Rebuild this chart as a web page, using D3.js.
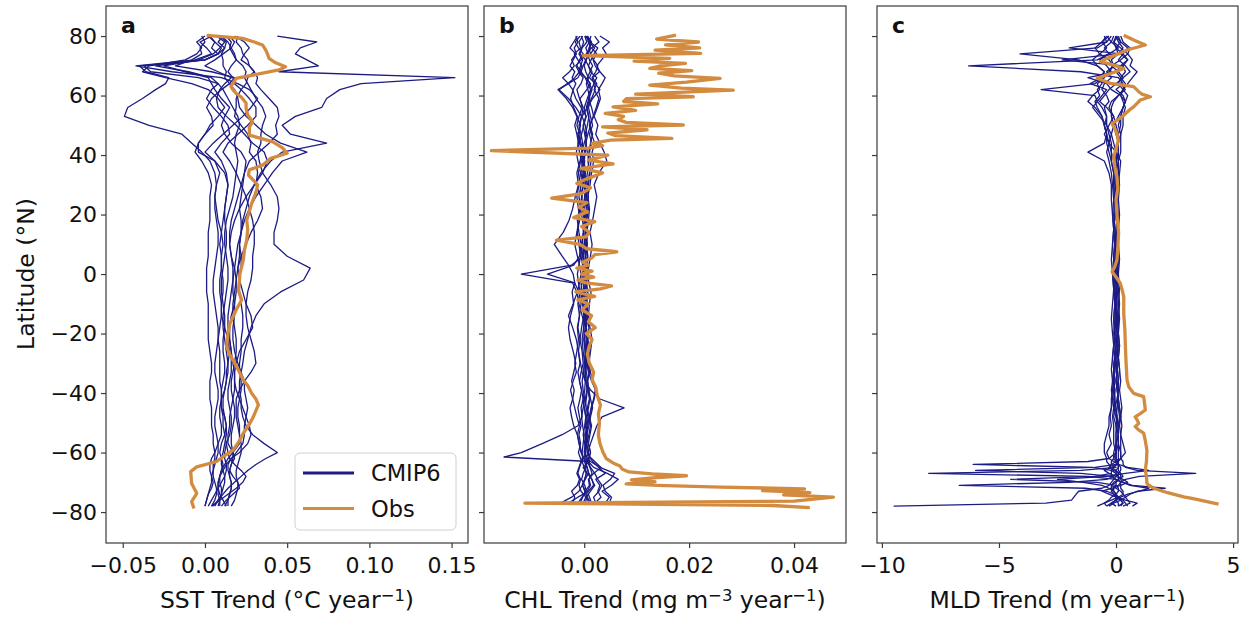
<!DOCTYPE html>
<html><head><meta charset="utf-8">
<script src="https://cdn.jsdelivr.net/npm/d3@7"></script>
<style>
body{margin:0;background:#fff;}
svg{display:block;}
text{font-family:"DejaVu Sans",sans-serif;fill:#111;}
</style>
</head><body>
<svg id="chart" width="1245" height="619"></svg>
<script>
// ---------------- DATA ----------------
const latTicks = [-80,-60,-40,-20,0,20,40,60,80];
const sstTicks = [-0.05,0,0.05,0.10,0.15];
const chlTicks = [0,0.02,0.04];
const mldTicks = [-10,-5,0,5];

// Panel a: SST trend (°C / year), CMIP6 models
const latA = [-78,-76,-74,-72,-70,-68,-66,-64,-62,-60,
  -57,-54,-51,-48,-45,-42,-39,-36,-33,-30,
  -26,-22,-18,-14,-10,-6,-2,2,6,10,
  14,18,22,26,30,34,38,41,44,47,
  50,53,56,59,62,64,66,68,70,72,
  74,76,78,80];
const sstM01 = [0.006,0.008,0.010,0.011,0.012,0.012,0.011,0.010,0.010,0.011,
  0.012,0.013,0.013,0.012,0.011,0.011,0.012,0.013,0.014,0.014,
  0.013,0.012,0.011,0.011,0.012,0.013,0.014,0.014,0.013,0.012,
  0.012,0.013,0.015,0.017,0.018,0.019,0.020,0.019,0.018,0.019,
  0.021,0.020,0.017,0.014,0.011,0.008,0.004,-0.010,-0.030,0.000,
  0.008,0.010,0.006,0.003];
const sstM02 = [0.004,0.006,0.007,0.007,0.006,0.005,0.005,0.006,0.007,0.008,
  0.008,0.007,0.006,0.006,0.007,0.008,0.008,0.007,0.006,0.006,
  0.007,0.008,0.008,0.007,0.006,0.005,0.005,0.006,0.007,0.008,
  0.008,0.007,0.006,0.006,0.007,0.006,0.003,-0.002,-0.008,-0.014,
  -0.034,-0.049,-0.047,-0.038,-0.030,-0.024,-0.022,-0.036,-0.040,0.000,
  0.008,0.004,0.006,0.002];
const sstM03 = [0.012,0.014,0.015,0.016,0.016,0.015,0.015,0.016,0.017,0.017,
  0.016,0.016,0.017,0.018,0.018,0.017,0.016,0.016,0.017,0.018,
  0.019,0.019,0.018,0.017,0.017,0.018,0.019,0.020,0.021,0.021,
  0.022,0.023,0.025,0.027,0.030,0.034,0.040,0.047,0.074,0.052,
  0.047,0.055,0.071,0.074,0.082,0.095,0.152,0.045,0.069,0.062,
  0.055,0.058,0.068,0.044];
const sstM04 = [0.005,0.008,0.011,0.014,0.018,0.022,0.026,0.031,0.037,0.044,
  0.036,0.029,0.025,0.023,0.022,0.022,0.021,0.021,0.022,0.023,
  0.024,0.026,0.028,0.031,0.036,0.046,0.060,0.064,0.050,0.042,
  0.042,0.044,0.045,0.044,0.040,0.035,0.033,0.032,0.034,0.034,
  0.035,0.037,0.035,0.031,0.028,0.026,0.024,0.025,0.023,0.019,
  0.017,0.015,0.016,0.013];
const sstM05 = [0.000,0.001,0.002,0.003,0.004,0.004,0.005,0.005,0.006,0.006,
  0.005,0.005,0.004,0.004,0.004,0.003,0.003,0.003,0.004,0.004,
  0.003,0.002,0.002,0.002,0.002,0.001,0.001,0.001,0.002,0.002,
  0.002,0.003,0.003,0.003,0.004,0.002,-0.002,-0.006,-0.004,0.000,
  0.003,0.008,0.012,0.008,0.002,-0.008,-0.024,-0.038,-0.034,-0.012,
  -0.005,-0.002,-0.005,0.000];
const sstM06 = [0.016,0.018,0.019,0.020,0.020,0.019,0.019,0.020,0.021,0.022,
  0.022,0.021,0.021,0.020,0.020,0.021,0.022,0.022,0.021,0.021,
  0.022,0.022,0.023,0.023,0.022,0.021,0.021,0.022,0.022,0.021,
  0.022,0.024,0.027,0.031,0.036,0.041,0.047,0.062,0.046,0.037,
  0.031,0.025,0.021,0.020,0.018,0.015,0.012,0.013,0.011,0.011,
  0.010,0.012,0.013,0.009];
const sstM07 = [0.004,0.009,0.014,0.019,0.023,0.025,0.022,0.018,0.015,0.014,
  0.013,0.012,0.011,0.011,0.010,0.010,0.010,0.011,0.012,0.012,
  0.011,0.011,0.012,0.012,0.011,0.010,0.010,0.011,0.012,0.013,
  0.013,0.012,0.012,0.013,0.014,0.013,0.010,0.006,0.010,0.015,
  0.014,0.010,0.005,0.001,0.004,0.008,-0.004,-0.033,-0.037,0.000,
  0.008,0.012,0.008,0.011];
const sstM08 = [0.009,0.009,0.008,0.008,0.008,0.009,0.010,0.012,0.014,0.017,
  0.021,0.021,0.020,0.019,0.019,0.019,0.021,0.024,0.028,0.031,
  0.030,0.028,0.026,0.025,0.025,0.026,0.028,0.029,0.029,0.030,
  0.030,0.029,0.027,0.025,0.022,0.019,0.015,0.011,0.014,0.020,
  0.026,0.031,0.031,0.027,0.022,0.018,0.017,0.014,0.016,0.019,
  0.018,0.016,0.018,0.015];
const sstM09 = [0.008,0.009,0.010,0.010,0.009,0.009,0.010,0.011,0.010,0.009,
  0.010,0.012,0.013,0.012,0.010,0.010,0.012,0.013,0.013,0.014,
  0.015,0.014,0.012,0.010,0.010,0.011,0.011,0.010,0.010,0.011,
  0.010,0.008,0.007,0.006,0.007,0.009,0.006,0.000,0.005,0.011,
  0.017,0.023,0.028,0.032,0.027,0.020,0.010,-0.020,-0.042,-0.006,
  0.004,0.001,-0.003,0.004];
const sstM10 = [0.014,0.014,0.015,0.016,0.016,0.015,0.014,0.014,0.016,0.019,
  0.023,0.024,0.024,0.025,0.026,0.025,0.024,0.024,0.022,0.020,
  0.018,0.017,0.017,0.018,0.018,0.017,0.017,0.018,0.019,0.020,
  0.022,0.022,0.021,0.022,0.023,0.024,0.027,0.033,0.039,0.044,
  0.043,0.045,0.044,0.039,0.034,0.031,0.032,0.030,0.027,0.026,
  0.023,0.022,0.019,0.020];
const sstM11 = [0.000,0.001,0.002,0.004,0.005,0.004,0.003,0.003,0.004,0.006,
  0.008,0.010,0.010,0.009,0.009,0.010,0.010,0.009,0.009,0.009,
  0.009,0.008,0.009,0.010,0.010,0.009,0.009,0.010,0.010,0.009,
  0.010,0.011,0.012,0.013,0.014,0.012,0.006,-0.004,-0.004,0.000,
  0.005,0.004,0.001,0.004,0.010,0.015,0.018,0.004,-0.018,-0.008,
  -0.002,-0.003,0.000,-0.002];
const sstM12 = [0.010,0.013,0.017,0.021,0.020,0.017,0.015,0.016,0.018,0.017,
  0.014,0.014,0.015,0.015,0.016,0.017,0.018,0.018,0.018,0.019,
  0.021,0.025,0.029,0.028,0.025,0.023,0.021,0.020,0.022,0.025,
  0.028,0.032,0.035,0.034,0.031,0.032,0.031,0.027,0.028,0.026,
  0.022,0.018,0.019,0.019,0.022,0.025,0.026,0.030,0.027,0.022,
  0.024,0.027,0.024,0.018];
const sstM13 = [0.002,0.004,0.006,0.008,0.010,0.012,0.013,0.013,0.012,0.012,
  0.013,0.015,0.016,0.016,0.015,0.014,0.014,0.015,0.016,0.016,
  0.016,0.015,0.014,0.014,0.015,0.016,0.017,0.017,0.016,0.015,
  0.015,0.016,0.018,0.020,0.022,0.024,0.025,0.022,0.016,0.012,
  0.010,0.012,0.015,0.010,0.006,0.004,0.002,-0.012,-0.025,-0.004,
  0.005,0.009,0.012,0.007];
const sstM14 = [0.013,0.011,0.009,0.008,0.008,0.009,0.011,0.013,0.016,0.021,
  0.026,0.028,0.027,0.025,0.023,0.021,0.019,0.018,0.018,0.017,
  0.016,0.015,0.015,0.016,0.018,0.019,0.019,0.018,0.016,0.015,
  0.016,0.018,0.021,0.025,0.030,0.035,0.038,0.036,0.029,0.024,
  0.019,0.013,0.008,0.007,0.009,0.012,0.016,0.008,0.000,0.006,
  0.011,0.016,0.014,0.010];
const sstModels = [sstM01,sstM02,sstM03,sstM04,sstM05,sstM06,sstM07,
  sstM08,sstM09,sstM10,sstM11,sstM12,sstM13,sstM14];

// Panel a: observed SST trend
const obsALat = [-78.8,-76.5,-73.7,-70.4,-66.4,-64.8,-63,-61,-59.2,-56,
  -53.5,-50.5,-48,-44,-42,-40.1,-37.5,-35.6,-33,-30,
  -27,-24.4,-20,-16.6,-12,-8.7,-5.4,-2,0.2,4.7,
  8,11.4,15,18.2,21,23.8,26,28.2,30,31.6,
  33.3,35,36.6,38.9,40.6,42.5,44.5,46.7,49.5,51.2,
  53.5,55.7,57.5,59.5,60.7,62,63,64.5,65.8,67.5,
  68.6,69.7,71,72.5,74,75.3,77,78,79.2,80.2];
const obsAVal = [-0.0067,-0.0081,-0.005,-0.0081,-0.0087,-0.005,0.0071,0.012,0.0172,0.021,
  0.0233,0.027,0.0294,0.0325,0.031,0.0284,0.026,0.0233,0.021,0.0182,
  0.015,0.0132,0.014,0.0152,0.019,0.0223,0.0203,0.021,0.0213,0.0233,
  0.024,0.0254,0.026,0.0254,0.027,0.0284,0.030,0.0314,0.032,0.0294,
  0.0264,0.027,0.035,0.040,0.050,0.047,0.041,0.027,0.027,0.029,
  0.026,0.025,0.025,0.022,0.019,0.017,0.0158,0.0175,0.0189,0.035,
  0.045,0.049,0.043,0.039,0.038,0.037,0.035,0.030,0.023,0.001];

// Panel b: CHL trend (mg m-3 / year), CMIP6 models
const latB = [-77,-75,-73,-71,-69,-67,-65,-63,-61.5,-60,
  -57,-54,-51,-48,-45,-42,-39,-36,-33,-30,
  -26,-22,-18,-14,-10,-6,-3,0,3,6,
  10,14,18,22,26,30,34,38,41,44,
  47,50,53,56,59,62,64,66,68,70,
  72,74,76,78,80];
const chlM01 = [-0.0030,-0.0012,0.0008,0.0018,0.0015,0.0006,-0.0002,0.0010,-0.0153,-0.0120,
  -0.0080,-0.0042,-0.0012,-0.0004,-0.0006,-0.0002,-0.0005,-0.0009,-0.0006,-0.0002,
  -0.0004,-0.0008,-0.0005,-0.0001,-0.0003,-0.0007,-0.0004,0.0000,-0.0003,-0.0006,
  -0.0004,-0.0001,-0.0003,-0.0007,-0.0010,-0.0006,-0.0002,-0.0005,-0.0009,-0.0012,
  -0.0008,-0.0014,-0.0010,-0.0004,-0.0008,0.0005,0.0012,0.0003,-0.0010,-0.0016,
  -0.0006,0.0004,0.0010,0.0013,0.0002];
const chlM02 = [0.0048,0.0052,0.0040,0.0036,0.0050,0.0058,0.0030,0.0012,0.0004,0.0002,
  0.0003,0.0006,0.0002,0.0004,0.0008,0.0011,0.0009,0.0006,0.0010,0.0005,
  0.0002,0.0005,0.0003,-0.0004,-0.0010,-0.0014,-0.0022,-0.0120,-0.0024,-0.0002,
  0.0003,0.0006,0.0004,0.0001,0.0004,0.0008,0.0011,0.0007,0.0010,0.0014,
  0.0010,0.0016,0.0012,0.0008,0.0014,0.0021,0.0018,0.0024,0.0012,0.0008,
  0.0013,0.0019,0.0026,0.0011,0.0006];
const chlM03 = [-0.0012,-0.0004,0.0002,0.0010,0.0008,0.0018,0.0032,0.0020,0.0011,0.0007,
  0.0012,0.0018,0.0024,0.0034,0.0076,0.0030,0.0012,0.0002,-0.0004,-0.0007,
  -0.0011,-0.0008,-0.0012,-0.0009,-0.0006,-0.0010,-0.0018,-0.0070,-0.0020,-0.0009,
  -0.0006,-0.0010,-0.0013,-0.0008,-0.0005,-0.0002,-0.0006,-0.0003,0.0001,-0.0006,
  -0.0012,-0.0007,-0.0014,-0.0022,-0.0034,-0.0050,-0.0030,-0.0012,-0.0006,-0.0014,
  -0.0009,-0.0002,-0.0011,-0.0017,-0.0008];
const chlM04 = [0.0012,0.0006,0.0002,-0.0003,0.0001,0.0004,0.0000,-0.0004,-0.0002,-0.0006,
  -0.0010,-0.0013,-0.0009,-0.0014,-0.0018,-0.0022,-0.0019,-0.0024,-0.0020,-0.0016,
  -0.0021,-0.0027,-0.0030,-0.0026,-0.0020,-0.0023,-0.0018,-0.0021,-0.0030,-0.0042,
  -0.0057,-0.0040,-0.0029,-0.0022,-0.0017,-0.0011,-0.0014,-0.0008,-0.0004,-0.0009,
  -0.0005,-0.0001,0.0004,-0.0006,-0.0016,-0.0022,-0.0030,-0.0041,-0.0028,-0.0019,
  -0.0024,-0.0016,-0.0027,-0.0020,-0.0013];
const chlM05 = [0.0014,0.0010,0.0006,0.0012,0.0009,0.0015,0.0011,0.0006,0.0009,0.0012,
  0.0008,0.0011,0.0014,0.0010,0.0013,0.0018,0.0021,0.0016,0.0012,0.0009,
  0.0012,0.0015,0.0011,0.0008,0.0010,0.0013,0.0009,0.0006,0.0009,0.0012,
  0.0015,0.0011,0.0016,0.0020,0.0024,0.0019,0.0028,0.0043,0.0038,0.0030,
  0.0022,0.0026,0.0019,0.0025,0.0031,0.0027,0.0034,0.0040,0.0030,0.0024,
  0.0033,0.0042,0.0035,0.0048,0.0030];
const chlM06 = [0.0002,0.0005,0.0001,-0.0003,0.0002,0.0008,0.0006,0.0002,0.0000,0.0003,
  0.0001,-0.0002,0.0001,0.0003,0.0000,-0.0002,0.0001,0.0002,-0.0001,0.0000,
  0.0002,0.0001,-0.0001,0.0001,0.0003,0.0001,-0.0001,0.0002,0.0001,-0.0001,
  0.0000,0.0002,0.0001,-0.0001,0.0001,0.0003,0.0002,0.0000,0.0002,0.0004,
  0.0002,0.0006,0.0009,0.0005,0.0011,0.0007,0.0004,0.0008,0.0003,0.0000,
  0.0004,0.0008,0.0003,0.0010,0.0006];
const chlM07 = [0.0022,0.0018,0.0028,0.0034,0.0026,0.0020,0.0012,0.0008,0.0010,0.0006,
  0.0004,0.0002,0.0005,0.0003,0.0001,0.0004,0.0006,0.0003,0.0002,0.0004,
  0.0003,0.0001,0.0004,0.0005,0.0002,0.0000,0.0003,0.0006,0.0004,0.0002,
  0.0004,0.0006,0.0003,0.0005,0.0008,0.0006,0.0010,0.0013,0.0009,0.0012,
  0.0016,0.0011,0.0018,0.0014,0.0008,0.0013,0.0019,0.0015,0.0022,0.0026,
  0.0018,0.0012,0.0009,0.0014,0.0006];
const chlM08 = [-0.0022,-0.0018,-0.0024,-0.0013,-0.0009,-0.0014,-0.0010,-0.0006,-0.0003,-0.0005,
  -0.0009,-0.0013,-0.0020,-0.0024,-0.0027,-0.0022,-0.0026,-0.0021,-0.0015,-0.0018,
  -0.0014,-0.0011,-0.0013,-0.0009,-0.0012,-0.0008,-0.0011,-0.0013,-0.0010,-0.0007,
  -0.0010,-0.0013,-0.0009,-0.0011,-0.0014,-0.0010,-0.0007,-0.0012,-0.0015,-0.0011,
  -0.0014,-0.0018,-0.0013,-0.0020,-0.0026,-0.0021,-0.0016,-0.0023,-0.0018,-0.0027,
  -0.0021,-0.0015,-0.0019,-0.0012,-0.0016];
const chlM09 = [-0.0045,-0.0024,-0.0010,-0.0004,0.0001,0.0004,0.0002,0.0005,0.0003,0.0000,
  0.0002,0.0004,0.0007,0.0009,0.0006,0.0010,0.0007,0.0004,0.0002,0.0005,
  0.0003,0.0006,0.0004,0.0007,0.0005,0.0002,0.0004,0.0008,0.0005,0.0003,
  0.0006,0.0004,0.0002,0.0005,0.0003,0.0000,-0.0002,0.0001,-0.0004,0.0000,
  0.0005,0.0002,-0.0004,0.0006,0.0016,0.0030,0.0021,0.0010,0.0015,0.0008,
  0.0002,0.0012,0.0020,0.0009,0.0013];
const chlM10 = [0.0040,0.0048,0.0034,0.0052,0.0065,0.0044,0.0018,0.0008,0.0004,0.0002,
  0.0005,0.0009,0.0012,0.0010,0.0014,0.0019,0.0022,0.0014,0.0008,0.0005,
  0.0002,-0.0001,0.0002,0.0004,0.0001,-0.0002,0.0000,0.0003,0.0001,-0.0002,
  0.0000,0.0003,0.0001,-0.0002,0.0001,0.0003,0.0000,-0.0002,0.0001,0.0004,
  0.0001,-0.0002,0.0003,0.0000,0.0006,0.0012,0.0007,0.0002,-0.0006,-0.0002,
  0.0003,-0.0008,-0.0004,0.0005,0.0001];
const chlM11 = [-0.0002,0.0003,-0.0006,-0.0010,-0.0007,-0.0012,-0.0009,-0.0005,-0.0008,-0.0011,
  -0.0007,-0.0010,-0.0006,-0.0009,-0.0012,-0.0008,-0.0005,-0.0009,-0.0012,-0.0008,
  -0.0011,-0.0015,-0.0022,-0.0030,-0.0021,-0.0013,-0.0009,-0.0006,-0.0009,-0.0013,
  -0.0018,-0.0014,-0.0010,-0.0007,-0.0004,-0.0008,-0.0011,-0.0007,-0.0004,-0.0008,
  -0.0012,-0.0008,-0.0005,-0.0016,-0.0030,-0.0048,-0.0032,-0.0018,-0.0009,-0.0004,
  -0.0012,-0.0019,-0.0007,-0.0010,-0.0003];
const chlM12 = [0.0020,0.0032,0.0026,0.0030,0.0022,0.0040,0.0028,0.0016,0.0010,0.0012,
  0.0008,0.0005,0.0009,0.0012,0.0016,0.0012,0.0009,0.0006,0.0010,0.0007,
  0.0010,0.0007,0.0009,0.0005,0.0003,0.0006,0.0004,0.0001,0.0004,0.0006,
  0.0003,0.0005,0.0008,0.0010,0.0007,0.0011,0.0014,0.0018,0.0015,0.0020,
  0.0014,0.0010,0.0017,0.0023,0.0028,0.0019,0.0024,0.0016,0.0029,0.0021,
  0.0017,0.0024,0.0014,0.0028,0.0020];
const chlM13 = [-0.0008,-0.0003,0.0004,0.0001,-0.0005,-0.0002,0.0003,0.0001,-0.0002,-0.0004,
  -0.0002,0.0000,-0.0003,-0.0005,-0.0002,0.0001,-0.0002,-0.0004,-0.0001,0.0001,
  -0.0002,-0.0004,-0.0001,0.0001,-0.0002,-0.0004,-0.0006,-0.0003,-0.0001,-0.0003,
  -0.0005,-0.0002,0.0000,-0.0003,-0.0005,-0.0002,0.0001,-0.0002,-0.0005,-0.0003,
  -0.0006,-0.0010,-0.0005,-0.0002,-0.0009,-0.0014,-0.0006,-0.0002,-0.0011,-0.0007,
  -0.0003,-0.0010,-0.0005,-0.0001,-0.0006];
const chlM14 = [0.0010,0.0004,0.0012,0.0020,0.0014,0.0009,0.0005,0.0002,0.0005,0.0008,
  0.0005,0.0003,0.0006,0.0007,0.0004,0.0002,0.0005,0.0007,0.0004,0.0002,
  0.0005,0.0007,0.0004,0.0002,0.0005,0.0007,0.0004,0.0002,0.0005,0.0007,
  0.0004,0.0002,0.0005,0.0008,0.0005,0.0003,0.0006,0.0009,0.0006,0.0003,
  0.0007,0.0012,0.0008,0.0004,0.0009,0.0015,0.0010,0.0006,0.0011,0.0016,
  0.0010,0.0006,0.0013,0.0008,0.0004];
const chlModels = [chlM01,chlM02,chlM03,chlM04,chlM05,chlM06,chlM07,
  chlM08,chlM09,chlM10,chlM11,chlM12,chlM13,chlM14];

// Panel b: observed CHL trend
const obsBLat = [-78.5,-77.8,-77,-76.3,-75,-74.2,-73.5,-72.8,-72.2,-71.6,
  -71,-70.5,-69.8,-69.2,-68.5,-67.8,-67.2,-66.5,-65.5,-64.5,
  -63.5,-62,-60,-57,-54,-50,-47,-44,-41,-38,
  -35.5,-33,-30,-27,-24,-22,-20,-18,-16,-14,
  -12,-10,-8.7,-7.5,-6,-5,-4,-3,-2,-1,
  0,1,2,3,4,5.5,6.5,7.5,8.5,10,
  11.4,12.5,14,16,17.6,19,20.9,22.5,24,25.5,
  27,29,30.5,32,34,35.5,37,38.3,40,41.5,
  42.3,43.2,43.9,45,45.6,46.5,47.4,48.5,49.5,50.1,
  51,51.9,53,54,55,56.2,57.2,58,59,59.6,
  60.5,61.8,62.5,63.5,64.5,65.8,66.6,67.5,68.4,69.1,
  70,70.8,71.6,72.5,73.4,74.2,75.3,76,77,78,
  79,80.3];
const obsBVal = [0.043,0.036,-0.0113,0.04,0.0475,0.038,0.043,0.034,0.042,0.026,
  0.014,0.008,0.0135,0.009,0.013,0.0195,0.013,0.0085,0.0072,0.0068,
  0.0055,0.0042,0.0036,0.003,0.0027,0.0029,0.0027,0.0031,0.0025,0.0022,
  0.0015,0.0018,0.001,0.0006,0.001,0.0015,0.0004,0.0021,0.0008,0.0014,
  -0.0004,0.0008,-0.0012,0.002,-0.0016,0.0031,0.0052,0.0003,-0.0012,0.0018,
  -0.0005,0.0015,-0.0014,0.0008,-0.0003,0.0015,0.002,0.0062,0.0005,-0.0008,
  -0.0053,0.0003,0.001,-0.0005,0.002,-0.002,0.0006,-0.001,0.0005,-0.0062,
  -0.0005,0.0012,-0.0014,0.0005,0.0035,-0.0006,0.0055,0.0008,0.0045,-0.0177,
  0.0007,0.0035,0.0015,0.005,0.0167,0.006,0.0045,0.012,0.0035,0.0189,
  0.008,0.0065,0.0075,0.004,0.0098,0.0055,0.014,0.0075,0.0081,0.0208,
  0.0098,0.0284,0.0185,0.0125,0.0195,0.0259,0.0172,0.0142,0.0205,0.0125,
  0.0145,0.0193,0.0095,0.0163,-0.0002,0.0222,0.0135,0.022,0.0155,0.0218,
  0.0138,0.0175];

// Panel c: MLD trend (m / year), CMIP6 models
const latC = [-78,-77,-76,-75,-74,-73,-72,-71,-70,-69,
  -68,-67,-66,-65,-64,-63,-62,-60,-57,-54,
  -51,-48,-45,-42,-39,-36,-32,-28,-24,-20,
  -15,-10,-5,0,5,10,15,20,25,30,
  34,38,41,44,47,50,53,56,58,60,
  62,64,66,68,70,72,74,76,78,80];
const mldM01 = [-9.5,-3.0,-1.9,-1.8,-1.7,-1.6,-0.6,-0.3,-0.2,-0.1,
  0.0,0.1,0.2,0.2,0.1,0.0,-0.1,-0.1,0.0,0.1,
  0.1,0.05,0.0,-0.05,-0.05,-0.1,-0.05,0.0,-0.05,-0.1,
  -0.05,0.0,-0.05,-0.1,-0.05,0.0,-0.05,-0.1,-0.05,0.0,
  0.0,0.1,0.1,0.1,0.0,-0.1,-0.2,-0.2,-0.1,0.1,
  0.3,0.4,0.2,0.0,0.2,0.5,0.3,0.0,0.2,0.1];
const mldM02 = [0.2,0.3,0.2,0.0,-0.1,-0.2,-0.1,0.1,0.2,0.0,
  -1.2,-8.0,-1.5,0.0,-0.2,-0.2,-0.1,0.0,0.0,0.1,
  0.0,-0.1,-0.05,0.05,0.1,0.1,0.05,0.1,0.15,0.1,
  0.05,0.1,0.15,0.1,0.05,0.1,0.05,0.0,-0.05,-0.1,
  -0.1,-0.2,-0.2,-0.3,-0.4,-0.5,-0.4,-0.6,-0.8,-0.9,
  -3.2,-0.9,-0.6,-0.5,-0.8,-1.0,-0.7,-0.4,-0.6,-0.4];
const mldM03 = [-0.4,-0.2,0.0,0.1,0.0,-0.1,-0.2,-0.2,0.0,0.1,
  0.1,0.0,-0.2,-1.0,-6.1,-1.2,-0.3,0.0,0.1,0.1,
  0.1,0.0,-0.1,-0.15,-0.1,-0.15,-0.2,-0.15,-0.1,-0.15,
  -0.2,-0.15,-0.1,-0.15,-0.2,-0.15,-0.1,-0.05,0.0,0.05,
  0.1,0.1,0.0,-0.1,-0.2,-0.1,0.1,0.3,0.4,0.3,
  0.0,0.3,0.1,-1.5,-6.3,-0.8,-0.3,-0.5,-0.2,-0.4];
const mldM04 = [0.1,0.3,0.2,0.1,-0.1,-0.4,-1.3,-6.7,-2.0,-0.4,
  -0.1,0.0,0.0,-0.2,-0.3,-0.4,-0.4,-0.5,-0.5,-0.4,
  -0.3,-0.3,-0.2,-0.2,-0.15,-0.1,-0.1,-0.05,-0.1,-0.05,
  0.0,-0.05,-0.1,-0.05,-0.1,-0.15,-0.1,-0.15,-0.2,-0.2,
  -0.3,-0.5,-1.2,-0.5,-0.4,-0.5,-0.6,-0.8,-0.9,-0.7,
  -0.8,-0.6,-0.7,-0.5,-0.8,-1.6,-4.1,-0.8,-0.4,-0.5];
const mldM05 = [0.3,0.6,0.5,0.4,0.3,0.3,0.2,0.2,0.2,0.4,
  1.0,3.4,0.9,0.4,0.3,0.3,0.2,0.2,0.2,0.2,
  0.25,0.2,0.25,0.2,0.15,0.2,0.15,0.1,0.15,0.1,
  0.1,0.15,0.1,0.05,0.1,0.05,0.1,0.15,0.1,0.15,
  0.1,0.1,0.2,0.2,0.2,0.3,0.3,0.4,0.3,0.2,
  0.3,0.5,0.7,0.9,0.6,0.7,0.5,0.6,0.3,0.2];
const mldM06 = [-0.3,-0.1,0.2,0.4,0.6,0.9,2.1,0.7,0.3,0.0,
  -0.2,-1.5,-6.0,-0.9,0.0,0.1,0.1,0.1,0.1,0.1,
  0.1,0.15,0.1,0.05,0.1,0.05,0.0,0.05,0.1,0.05,
  0.0,0.05,0.0,0.05,0.1,0.05,0.0,0.05,0.0,0.05,
  0.0,0.0,0.0,0.1,0.1,0.0,-0.1,-0.3,-0.2,0.1,
  0.4,0.2,0.3,0.6,0.4,0.1,0.3,0.5,0.2,0.0];
const mldM07 = [0.5,0.4,0.3,0.1,0.0,-0.1,-0.3,-0.6,-1.4,-2.5,
  -0.4,0.4,1.4,0.5,0.1,0.1,0.2,0.2,0.1,0.1,
  0.1,0.2,0.15,0.1,0.05,0.0,0.05,-0.05,0.0,0.05,
  0.0,-0.05,0.0,0.05,0.0,-0.05,0.0,0.05,0.0,-0.05,
  -0.1,-0.1,-0.2,-0.2,-0.3,-0.4,-0.4,-0.5,-0.3,-0.4,
  -0.6,-0.5,-0.2,-0.4,-0.1,-0.3,-0.7,-0.9,-0.6,-0.3];
const mldM08 = [-0.4,-0.5,-0.3,-0.2,0.0,0.1,0.1,0.0,-0.8,-4.5,
  -0.9,-0.2,-0.2,-0.1,0.0,0.1,0.0,0.0,-0.1,-0.1,
  -0.1,-0.15,-0.1,-0.05,-0.1,-0.05,-0.1,-0.05,0.0,-0.05,
  -0.1,-0.05,-0.1,-0.05,0.0,-0.05,-0.1,-0.05,0.0,0.05,
  0.0,0.0,0.1,0.1,0.2,0.1,0.2,0.3,0.4,0.2,
  -0.2,-0.4,-1.2,0.0,0.3,0.5,0.2,-2.0,-0.4,-0.2];
const mldM09 = [0.0,-0.2,0.0,0.2,0.5,1.0,1.4,0.6,0.3,0.2,
  0.1,0.1,0.0,0.1,0.1,0.1,0.0,0.0,0.0,0.0,
  0.0,0.05,-0.05,-0.1,-0.05,-0.1,-0.05,0.0,0.05,0.0,
  0.05,0.0,-0.05,0.0,0.05,0.1,0.05,0.0,-0.05,-0.1,
  -0.1,-0.2,-0.3,-0.4,-0.4,-0.5,-0.6,-0.9,-1.2,-1.0,
  -0.7,-0.8,-0.5,-0.3,-0.1,-0.2,0.1,0.0,-0.1,0.1];
const mldM10 = [0.1,0.1,0.0,0.0,0.0,-0.1,-0.1,0.0,0.0,0.1,
  0.2,0.2,0.1,0.1,0.1,0.0,0.0,0.0,0.0,0.0,
  0.05,0.0,0.05,0.1,0.05,0.0,0.05,0.1,0.05,0.1,
  0.05,0.0,0.05,0.0,-0.05,0.0,0.05,0.1,0.05,0.0,
  0.0,0.0,0.0,0.1,0.1,0.2,0.2,0.3,0.4,0.5,
  0.3,0.1,0.2,0.4,0.3,-2.3,0.1,0.3,0.1,0.0];
const mldM11 = [-0.8,-0.5,-0.2,0.1,0.3,0.2,0.0,-0.2,-0.1,0.1,
  0.3,0.2,-0.1,-0.3,-0.2,0.0,0.2,0.4,0.3,0.2,
  0.15,0.2,0.15,0.1,0.05,0.1,0.15,0.1,0.05,0.1,
  0.15,0.1,0.05,0.1,0.15,0.1,0.05,0.0,0.05,0.1,
  0.15,0.2,0.0,-0.3,-0.5,-0.3,-0.1,-0.4,-0.7,-0.5,
  -0.3,0.0,0.3,0.1,-0.2,0.2,0.5,0.2,-0.1,0.0];
const mldM12 = [0.7,0.9,0.4,0.0,-0.3,-0.6,-0.2,0.2,0.5,0.3,
  0.0,-0.3,-0.5,-0.2,0.1,-0.1,-0.3,-0.4,-0.2,-0.3,
  -0.2,-0.25,-0.2,-0.15,-0.2,-0.15,-0.1,-0.15,-0.1,-0.05,
  -0.1,-0.05,-0.1,-0.15,-0.1,-0.05,-0.1,-0.15,-0.1,-0.15,
  -0.2,-0.3,-0.4,-0.3,-0.2,-0.4,-0.7,-1.0,-0.8,-0.6,
  -0.4,-1.1,-0.6,-0.2,-0.4,-0.7,-0.3,0.1,-0.2,-0.1];
const mldModels = [mldM01,mldM02,mldM03,mldM04,mldM05,mldM06,mldM07,
  mldM08,mldM09,mldM10,mldM11,mldM12];

// Panel c: observed MLD trend
const obsCLat = [-77.3,-76.5,-75.5,-74.9,-73.5,-72,-71,-70.4,-68,-65.9,
  -63,-59.2,-56,-53.5,-52.3,-51.3,-50.2,-49,-48,-46.8,
  -45.7,-43.5,-41.2,-40.1,-38,-35.6,-30,-24.4,-19,-13.2,
  -7.6,-5,-3.1,-1,0.8,2.5,4.7,9,13.9,19,
  25,29,32.7,36,39.4,42,45,47.3,50.6,52,
  53.4,55,56.2,58.5,59.6,60.5,61.3,63,64.1,65.8,
  67.5,69.1,70.5,71.4,72.5,74,75.3,77,78.5,80.3];
const obsCVal = [4.38,3.89,3.3,2.89,2.2,1.61,1.4,1.32,1.3,1.25,
  1.3,1.32,1.25,1.18,0.95,0.82,0.97,0.9,0.82,1.05,
  1.25,1.22,1.18,0.75,0.55,0.47,0.43,0.4,0.38,0.33,
  0.33,0.25,0.18,0.0,-0.17,-0.05,0.04,0.08,0.11,0.05,
  0.0,0.08,0.04,-0.05,-0.1,0.0,0.1,0.04,-0.17,0.1,
  0.33,0.55,0.75,1.04,1.47,1.1,0.97,0.75,-0.24,-0.81,
  -0.2,0.33,-0.2,-0.67,-0.38,0.1,0.47,1.25,0.8,0.33];

const legendLabels = ["CMIP6","Obs"];

// ---------------- DRAWING ----------------
const svg = d3.select("#chart");
const modelColor = "#1c1c84";
const obsColor = "#d38b3f";
const plotTop = 6, plotBottom = 543;
const y = d3.scaleLinear().domain([-90.4, 90.1]).range([plotBottom, plotTop]);

const panels = [
  {label:"a", x0:106, x1:468, domain:[-0.0602,0.16], ticks:sstTicks, fmt:d3.format(".2f"),
   lat:latA, models:sstModels, obsLat:obsALat, obsVal:obsAVal,
   title:[["SST Trend (°C year",false],["−1",true],[")",false]], yLabels:true, legend:true},
  {label:"b", x0:484, x1:846, domain:[-0.0191,0.0499], ticks:chlTicks, fmt:d3.format(".2f"),
   lat:latB, models:chlModels, obsLat:obsBLat, obsVal:obsBVal,
   title:[["CHL Trend (mg m",false],["−3",true],[" year",false],["−1",true],[")",false]], yLabels:false},
  {label:"c", x0:877, x1:1238, domain:[-10.21,5.21], ticks:mldTicks, fmt:d3.format("d"),
   lat:latC, models:mldModels, obsLat:obsCLat, obsVal:obsCVal,
   title:[["MLD Trend (m year",false],["−1",true],[")",false]], yLabels:false}
];

panels.forEach((p,i) => {
  const x = d3.scaleLinear().domain(p.domain).range([p.x0, p.x1]);
  const g = svg.append("g");
  const clipId = "clip"+i;
  svg.append("clipPath").attr("id", clipId).append("rect")
    .attr("x", p.x0).attr("y", plotTop).attr("width", p.x1-p.x0).attr("height", plotBottom-plotTop);

  const plot = g.append("g").attr("clip-path", `url(#${clipId})`);
  const line = d3.line().x(d => x(d[1])).y(d => y(d[0]));

  p.models.forEach(vals => {
    plot.append("path")
      .datum(p.lat.map((la,k) => [la, vals[k]]))
      .attr("d", line)
      .attr("fill","none").attr("stroke", modelColor)
      .attr("stroke-width", 1.3).attr("stroke-linejoin","round");
  });
  plot.append("path")
    .datum(p.obsLat.map((la,k) => [la, p.obsVal[k]]))
    .attr("d", line)
    .attr("fill","none").attr("stroke", obsColor)
    .attr("stroke-width", 3.3).attr("stroke-linejoin","round");

  g.append("rect").attr("x", p.x0).attr("y", plotTop).attr("width", p.x1-p.x0).attr("height", plotBottom-plotTop)
    .attr("fill","none").attr("stroke","#3a3a3a").attr("stroke-width",1.2);

  const xa = g.append("g").attr("transform", `translate(0,${plotBottom})`)
    .call(d3.axisBottom(x).tickValues(p.ticks).tickFormat(p.fmt).tickSize(5).tickPadding(9).tickSizeOuter(0));
  xa.select(".domain").remove();
  xa.selectAll("line").attr("stroke","#3a3a3a").attr("stroke-width",1.2);
  xa.selectAll("text").attr("font-size", 22).attr("font-family","DejaVu Sans, sans-serif").attr("fill","#111");

  const ya = g.append("g").attr("transform", `translate(${p.x0},0)`)
    .call(d3.axisLeft(y).tickValues(latTicks).tickSize(5).tickPadding(4).tickSizeOuter(0)
      .tickFormat(p.yLabels ? d3.format("d") : ""));
  ya.select(".domain").remove();
  ya.selectAll("line").attr("stroke","#3a3a3a").attr("stroke-width",1.2);
  ya.selectAll("text").attr("font-size", 22).attr("font-family","DejaVu Sans, sans-serif").attr("fill","#111");

  g.append("text").attr("x", p.x0 + 15).attr("y", 33)
    .attr("font-size", 22).attr("font-weight","bold").text(p.label);

  const t = g.append("text").attr("x", (p.x0+p.x1)/2).attr("y", 608)
    .attr("text-anchor","middle").attr("font-size", 23.5);
  let raised = false;
  p.title.forEach(([s, sup]) => {
    const ts = t.append("tspan").text(s);
    if (sup && !raised) { ts.attr("dy","-0.45em").attr("font-size","0.7em"); raised = true; }
    else if (!sup && raised) { ts.attr("dy","0.315em"); raised = false; }
  });

  if (p.legend) {
    const lg = g.append("g");
    lg.append("rect").attr("x", 295).attr("y", 453).attr("width", 161).attr("height", 77)
      .attr("rx", 5).attr("fill","#fff").attr("fill-opacity",0.85)
      .attr("stroke","#d0d0d0").attr("stroke-width",1);
    const cols = [modelColor, obsColor];
    legendLabels.forEach((name,k) => {
      const yy = 473 + k*35.5;
      lg.append("line").attr("x1",303).attr("x2",354).attr("y1",yy).attr("y2",yy)
        .attr("stroke", cols[k]).attr("stroke-width",3);
      lg.append("text").attr("x",371).attr("y",yy).attr("dy","0.36em")
        .attr("font-size",22.5).text(name);
    });
  }
});

svg.append("text").attr("transform","translate(34,274) rotate(-90)")
  .attr("text-anchor","middle").attr("font-size",23.5).text("Latitude (°N)");
</script>
</body></html>
